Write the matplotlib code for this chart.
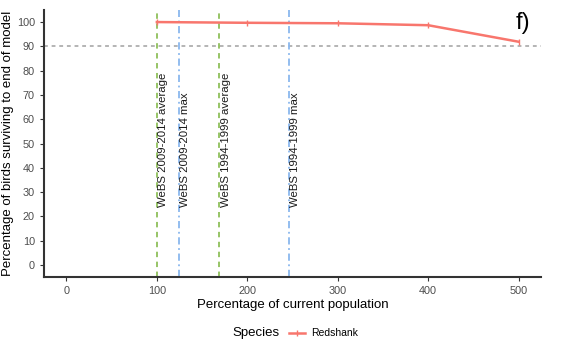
import matplotlib
matplotlib.use("Agg")
import matplotlib.pyplot as plt

plt.rcParams['font.family'] = ['Liberation Sans', 'DejaVu Sans']

# Data
population = [100, 200, 300, 400, 500]
survival = [100, 99.7, 99.5, 98.7, 91.9]

ref_x = [100, 124, 169, 246]
ref_labels = ["WeBS 2009-2014 average", "WeBS 2009-2014 max",
              "WeBS 1994-1999 average", "WeBS 1994-1999 max"]
ref_colors = ["#8fbf5a", "#8ab8ee", "#8fbf5a", "#8ab8ee"]
ref_styles = [(0, (3, 2.5)), (0, (4, 2, 1, 2)), (0, (3, 2.5)), (0, (4, 2, 1, 2))]

xticks = [0, 100, 200, 300, 400, 500]
yticks = list(range(0, 101, 10))

fig = plt.figure(figsize=(5.62, 3.54), dpi=100)
ax = fig.add_axes([0.078, 0.217, 0.885, 0.755])

# Threshold line
ax.axhline(90, color="#a0a0a0", linestyle=(0, (2.5, 2.5)), linewidth=1.1)

# Reference population lines with labels
for x, lab, c, ls in zip(ref_x, ref_labels, ref_colors, ref_styles):
    ax.axvline(x, color=c, linestyle=ls, linewidth=1.3)
    ax.text(x + 1.5, 24, lab, rotation=90, ha="left", va="bottom",
            fontsize=8.2, color="#1a1a1a")

# Species line
ax.plot(population, survival, color="#f8766d", linewidth=1.8,
        marker="|", markersize=4, label="Redshank")

ax.set_xlim(-25, 525)
ax.set_ylim(-5, 105)
ax.set_xticks(xticks)
ax.set_yticks(yticks)
ax.tick_params(colors="#333333", labelsize=7.8, length=3, width=0.8)
ax.tick_params(axis="both", labelcolor="#4d4d4d")

for side in ["top", "right"]:
    ax.spines[side].set_visible(False)
for side in ["left", "bottom"]:
    ax.spines[side].set_color("#333333")
    ax.spines[side].set_linewidth(1.5)

ax.set_xlabel("Percentage of current population", fontsize=9.5, labelpad=2)
ax.set_ylabel("Percentage of birds surviving to end of model", fontsize=9.5, labelpad=2)

# Legend at bottom
fig.text(0.413, 0.058, "Species", fontsize=9.5, ha="left", va="center")
leg = fig.legend(loc="center", bbox_to_anchor=(0.575, 0.058), frameon=False,
                 fontsize=7.5, handlelength=1.6, handletextpad=0.5)

# Panel letter
fig.text(0.918, 0.935, "f)", fontsize=17, ha="left", va="center")

plt.savefig("out.png", dpi=100)
